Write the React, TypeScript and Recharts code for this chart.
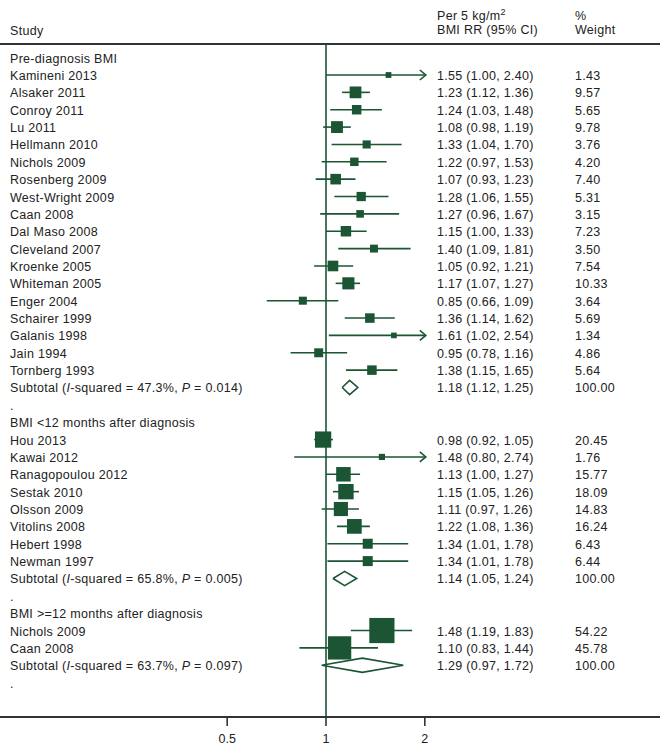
import React from 'react';
import { ComposedChart, Scatter, XAxis, YAxis, ReferenceLine } from 'recharts';

const GREEN = '#1b5533';
const INK = '#222';
const FONT = "'Liberation Sans', Arial, Helvetica, sans-serif";

// group titles
const groupTitles = [
  'Pre-diagnosis BMI',
  'BMI <12 months after diagnosis',
  'BMI >=12 months after diagnosis',
];

// pre-diagnosis studies
const preStudies = [
  'Kamineni 2013', 'Alsaker 2011', 'Conroy 2011', 'Lu 2011', 'Hellmann 2010', 'Nichols 2009',
  'Rosenberg 2009', 'West-Wright 2009', 'Caan 2008', 'Dal Maso 2008', 'Cleveland 2007',
  'Kroenke 2005', 'Whiteman 2005', 'Enger 2004', 'Schairer 1999', 'Galanis 1998', 'Jain 1994',
  'Tornberg 1993',
];
const preRR = [1.55, 1.23, 1.24, 1.08, 1.33, 1.22, 1.07, 1.28, 1.27, 1.15, 1.40, 1.05, 1.17, 0.85, 1.36, 1.61, 0.95, 1.38];
const preLow = [1.00, 1.12, 1.03, 0.98, 1.04, 0.97, 0.93, 1.06, 0.96, 1.00, 1.09, 0.92, 1.07, 0.66, 1.14, 1.02, 0.78, 1.15];
const preHigh = [2.40, 1.36, 1.48, 1.19, 1.70, 1.53, 1.23, 1.55, 1.67, 1.33, 1.81, 1.21, 1.27, 1.09, 1.62, 2.54, 1.16, 1.65];
const preWeight = [1.43, 9.57, 5.65, 9.78, 3.76, 4.20, 7.40, 5.31, 3.15, 7.23, 3.50, 7.54, 10.33, 3.64, 5.69, 1.34, 4.86, 5.64];

// <12 months after diagnosis
const earlyStudies = ['Hou 2013', 'Kawai 2012', 'Ranagopoulou 2012', 'Sestak 2010', 'Olsson 2009', 'Vitolins 2008', 'Hebert 1998', 'Newman 1997'];
const earlyRR = [0.98, 1.48, 1.13, 1.15, 1.11, 1.22, 1.34, 1.34];
const earlyLow = [0.92, 0.80, 1.00, 1.05, 0.97, 1.08, 1.01, 1.01];
const earlyHigh = [1.05, 2.74, 1.27, 1.26, 1.26, 1.36, 1.78, 1.78];
const earlyWeight = [20.45, 1.76, 15.77, 18.09, 14.83, 16.24, 6.43, 6.44];

// >=12 months after diagnosis
const lateStudies = ['Nichols 2009', 'Caan 2008'];
const lateRR = [1.48, 1.10];
const lateLow = [1.19, 0.83];
const lateHigh = [1.83, 1.44];
const lateWeight = [54.22, 45.78];

// subtotals
const subtotalRR = [1.18, 1.14, 1.29];
const subtotalLow = [1.12, 1.05, 0.97];
const subtotalHigh = [1.25, 1.24, 1.72];
const subtotalI2 = ['47.3%', '65.8%', '63.7%'];
const subtotalP = ['0.014', '0.005', '0.097'];

const xTicks = [0.5, 1, 2];
const CLIP = Math.max(...xTicks);

const groups = [
  { names: preStudies, rr: preRR, lo: preLow, hi: preHigh, w: preWeight },
  { names: earlyStudies, rr: earlyRR, lo: earlyLow, hi: earlyHigh, w: earlyWeight },
  { names: lateStudies, rr: lateRR, lo: lateLow, hi: lateHigh, w: lateWeight },
];

type Row = { kind: 'title' | 'study' | 'subtotal' | 'dot'; label: string; rr?: number; lo?: number; hi?: number; w?: number; g?: number };

const rows: Row[] = [];
groups.forEach((grp, g) => {
  rows.push({ kind: 'title', label: groupTitles[g] });
  grp.names.forEach((n, i) => rows.push({ kind: 'study', label: n, rr: grp.rr[i], lo: grp.lo[i], hi: grp.hi[i], w: grp.w[i] }));
  rows.push({ kind: 'subtotal', label: 'Subtotal', rr: subtotalRR[g], lo: subtotalLow[g], hi: subtotalHigh[g], w: 100, g });
  rows.push({ kind: 'dot', label: '.' });
});

const indexed = rows.map((r, i) => ({ r, i }));

const studyPoints = indexed
  .filter(({ r }) => r.kind === 'study')
  .map(({ r, i }) => ({ x: r.rr!, y: i, w: r.w! }));

// one two-point segment per study, upper end clipped at the last tick
const ciSegments = indexed
  .filter(({ r }) => r.kind === 'study')
  .map(({ r, i }) => [
    { x: r.lo!, y: i },
    { x: Math.min(r.hi!, CLIP), y: i },
  ]);

const arrowPoints = indexed
  .filter(({ r }) => r.kind === 'study' && r.hi! > CLIP)
  .map(({ i }) => ({ x: CLIP, y: i }));

const diamonds = indexed
  .filter(({ r }) => r.kind === 'subtotal')
  .map(({ r, i }) => [
    { x: r.lo!, y: i },
    { x: r.rr!, y: i - 0.41 },
    { x: r.hi!, y: i },
    { x: r.rr!, y: i + 0.41 },
    { x: r.lo!, y: i },
  ]);

// anchor points for the text columns (x only used to place the point, text is in fixed columns)
const textPoints = rows.map((_, i) => ({ x: 1, y: i, row: i }));

const fmt = (v: number) => v.toFixed(2);

const TEXT = { fontFamily: FONT, fontSize: 12.5, letterSpacing: 0.3, fill: INK };

const RowText = (props: any) => {
  const { cy, payload } = props;
  const r = rows[payload.row];
  if (!r) return <g />;
  const base = cy + 5;
  let left: React.ReactNode = r.label;
  if (r.kind === 'subtotal') {
    left = (
      <>
        Subtotal (<tspan fontStyle="italic">I</tspan>-squared = {subtotalI2[r.g!]}, <tspan fontStyle="italic">P</tspan> = {subtotalP[r.g!]})
      </>
    );
  }
  return (
    <g>
      <text x={10} y={base} {...TEXT}>{left}</text>
      {r.rr !== undefined && (
        <>
          <text x={437} y={base} {...TEXT}>{`${fmt(r.rr)} (${fmt(r.lo!)}, ${fmt(r.hi!)})`}</text>
          <text x={575} y={base} {...TEXT}>{fmt(r.w!)}</text>
        </>
      )}
    </g>
  );
};

const Box = (props: any) => {
  const { cx, cy, payload } = props;
  const s = 3.15 * Math.sqrt(payload.w) + 2;
  return <rect x={cx - s / 2} y={cy - s / 2} width={s} height={s} fill={GREEN} />;
};

const Arrow = (props: any) => {
  const { cx, cy } = props;
  return (
    <polyline
      points={`${cx - 5},${cy - 5} ${cx + 1},${cy} ${cx - 5},${cy + 5}`}
      fill="none"
      stroke={GREEN}
      strokeWidth={1.6}
    />
  );
};

const Nothing = () => <g />;

const Y_DOMAIN: [number, number] = [-0.786, 37.98];

export default function App() {
  return (
    <div style={{ position: 'absolute', left: 0, top: 0, width: 660, height: 746, background: '#fff' }}>
      <svg width={660} height={44} style={{ position: 'absolute', left: 0, top: 0 }}>
        <text x={10} y={35} {...TEXT}>Study</text>
        <text x={437} y={20} {...TEXT}>
          Per 5 kg/m<tspan dy={-5} fontSize={9}>2</tspan>
        </text>
        <text x={437} y={34} {...TEXT}>BMI RR (95% CI)</text>
        <text x={575} y={20} {...TEXT}>%</text>
        <text x={575} y={34} {...TEXT}>Weight</text>
      </svg>
      <ComposedChart width={660} height={746} margin={{ top: 44, right: 0, bottom: 0, left: 0 }}>
        <XAxis
          dataKey="x"
          type="number"
          scale="log"
          domain={[0.1016, 10.41]}
          ticks={xTicks}
          allowDataOverflow
          height={29}
          stroke="#333"
          axisLine={{ stroke: '#333', strokeWidth: 2 }}
          tickLine={{ stroke: '#333', strokeWidth: 1.6 }}
          tickSize={9}
          tickMargin={8}
          tick={{ fill: INK, fontSize: 12.5, fontFamily: FONT }}
        />
        <YAxis dataKey="y" type="number" domain={Y_DOMAIN} reversed hide allowDataOverflow />
        <ReferenceLine y={Y_DOMAIN[0]} stroke="#333" strokeWidth={2} ifOverflow="visible" />
        <ReferenceLine x={1} stroke={GREEN} strokeWidth={1.6} />
        {ciSegments.map((d, i) => (
          <Scatter
            key={`ci${i}`}
            data={d}
            shape={<Nothing />}
            line={{ stroke: GREEN, strokeWidth: 1.6 }}
            lineJointType="linear"
            isAnimationActive={false}
          />
        ))}
        {diamonds.map((d, i) => (
          <Scatter
            key={`dm${i}`}
            data={d}
            shape={<Nothing />}
            line={{ stroke: GREEN, strokeWidth: 1.6 }}
            lineJointType="linear"
            isAnimationActive={false}
          />
        ))}
        <Scatter data={studyPoints} shape={<Box />} isAnimationActive={false} />
        <Scatter data={arrowPoints} shape={<Arrow />} isAnimationActive={false} />
        <Scatter data={textPoints} shape={<RowText />} isAnimationActive={false} />
      </ComposedChart>
    </div>
  );
}
